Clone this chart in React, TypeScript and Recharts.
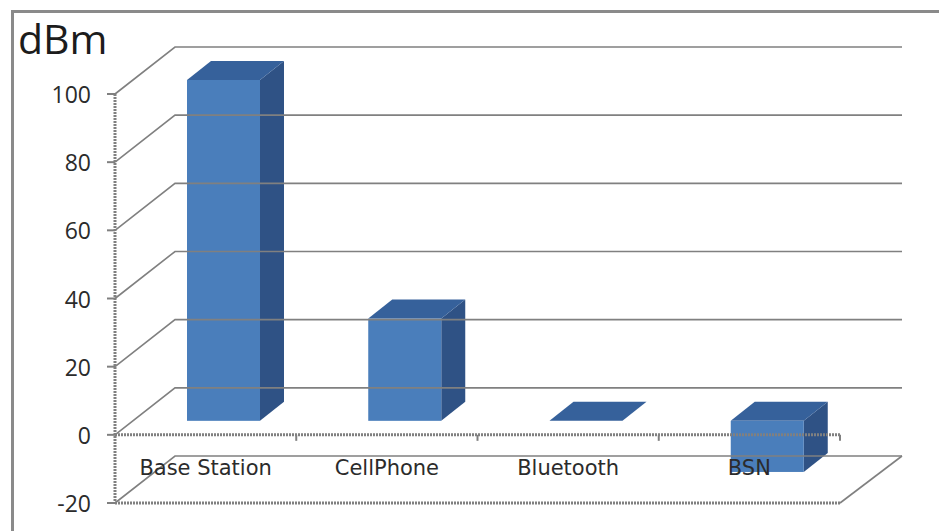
import React from 'react';
import { BarChart, Bar, XAxis, YAxis, ReferenceLine } from 'recharts';

const categories = ['Base Station', 'CellPhone', 'Bluetooth', 'BSN'];
const powerDbm = [100, 30, 0, -15];
const yTicks = [-20, 0, 20, 40, 60, 80, 100];

const chartData = categories.map((name, i) => ({ name, power: powerDbm[i] }));

const GRID = '#808080';
const FACE = '#4a7ebb';
const TOP = '#36619b';
const SIDE = '#2f5285';
const TEXT = '#2b2b2b';

// depth of the floor and back wall
const WALL_DX = 60;
const WALL_DY = -47;
const WALL_EXTRA = 2;
// how far the column sits behind the front plane, and how deep it is
const BAR_DX = 18;
const BAR_DY = -14;
const DEPTH_DX = 24;
const DEPTH_DY = -19;

const Column = ({ x, y, width, height }: any) => {
  const top = Math.min(y, y + height) + BAR_DY;
  const bottom = Math.max(y, y + height) + BAR_DY;
  const left = x + BAR_DX;
  const right = left + width;
  const sidePts = [
    [right, top],
    [right + DEPTH_DX, top + DEPTH_DY],
    [right + DEPTH_DX, bottom + DEPTH_DY],
    [right, bottom],
  ];
  const topPts = [
    [left, top],
    [left + DEPTH_DX, top + DEPTH_DY],
    [right + DEPTH_DX, top + DEPTH_DY],
    [right, top],
  ];
  return (
    <g>
      <polygon points={sidePts.join(' ')} fill={SIDE} />
      <polygon points={topPts.join(' ')} fill={TOP} />
      <rect x={left} y={top} width={width} height={bottom - top} fill={FACE} />
    </g>
  );
};

// side wall diagonal plus the line along the back wall
const WallLine = ({ x1, y1, x2, y2 }: any) => (
  <polyline
    points={`${x1},${y1} ${x1 + WALL_DX},${y1 + WALL_DY} ${x2 + WALL_DX + WALL_EXTRA},${y2 + WALL_DY}`}
    fill="none"
    stroke={GRID}
    strokeWidth={1.6}
  />
);

// floor edge on the right, from the front corner up to the back wall
const FloorLine = (props: any) => (
  <g>
    <WallLine {...props} />
    <line
      x1={props.x2}
      y1={props.y2}
      x2={props.x2 + WALL_DX + WALL_EXTRA}
      y2={props.y2 + WALL_DY}
      stroke={GRID}
      strokeWidth={1.6}
    />
  </g>
);

// category axis sits on the zero line, with its ticks hanging below it
const ZeroLine = ({ x1, y1, x2 }: any) => {
  const step = (x2 - x1) / categories.length;
  return (
    <g>
      <line x1={x1} y1={y1} x2={x2} y2={y1} stroke={GRID} strokeWidth={3} strokeDasharray="2 1" />
      {categories.map((c, i) => (
        <line
          key={c}
          x1={x1 + step * (i + 1)}
          y1={y1}
          x2={x1 + step * (i + 1)}
          y2={y1 + 6}
          stroke={GRID}
          strokeWidth={2}
        />
      ))}
    </g>
  );
};

const CategoryTick = ({ x, y, payload }: any) => (
  <text
    x={x}
    y={y - 36}
    textAnchor="middle"
    fill={TEXT}
    fontFamily="'DejaVu Sans', sans-serif"
    fontSize={21}
  >
    {payload.value}
  </text>
);

export default function App() {
  return (
    <div
      style={{
        position: 'absolute',
        left: 0,
        top: 0,
        width: 940,
        height: 531,
        overflow: 'hidden',
        background: '#fff',
      }}
    >
      <div
        style={{
          position: 'absolute',
          left: 11,
          top: 10,
          width: 925,
          height: 530,
          borderLeft: '3px solid #8a8a8a',
          borderTop: '3px solid #8a8a8a',
        }}
      />
      <div
        style={{
          position: 'absolute',
          left: 18,
          top: 10,
          fontFamily: "'Open Sans', sans-serif",
          fontSize: 41,
          lineHeight: '56px',
          color: '#1c1c1c',
        }}
      >
        dBm
      </div>
      <div style={{ position: 'absolute', left: 0, top: 0 }}>
        <BarChart
          width={940}
          height={531}
          data={chartData}
          margin={{ top: 94, right: 100, bottom: 27, left: 0 }}
          barSize={73}
        >
          {yTicks
            .filter((t) => t !== -20)
            .map((t) => (
              <ReferenceLine key={t} y={t} shape={WallLine} />
            ))}
          <ReferenceLine y={-20} shape={FloorLine} />
          <XAxis
            dataKey="name"
            height={1}
            axisLine={{ stroke: GRID, strokeWidth: 3, strokeDasharray: '2 1' }}
            tickLine={false}
            tick={CategoryTick}
            interval={0}
          />
          <YAxis
            width={115}
            domain={[-20, 100]}
            ticks={yTicks}
            interval={0}
            axisLine={{ stroke: GRID, strokeWidth: 3, strokeDasharray: '2 1' }}
            tickLine={{ stroke: GRID, strokeWidth: 2 }}
            tickSize={8}
            tickMargin={16}
            tick={{ fill: TEXT, fontSize: 23, fontFamily: "'Open Sans', sans-serif", dy: 1 }}
          />
          <Bar dataKey="power" shape={Column} isAnimationActive={false} />
          <ReferenceLine y={0} shape={ZeroLine} zIndex={600} />
        </BarChart>
      </div>
    </div>
  );
}
